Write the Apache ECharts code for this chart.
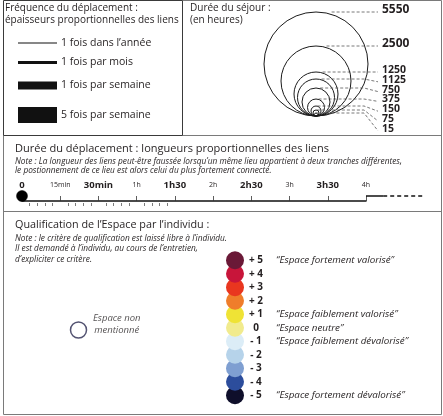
<!DOCTYPE html>
<html><head><meta charset="utf-8">
<script src="https://cdn.jsdelivr.net/npm/echarts@6.0.0/dist/echarts.min.js"></script>
<style>html,body{margin:0;padding:0;background:#fff}#c{width:443px;height:416px}</style>
</head><body><div id="c"></div><script>
// ---------- DATA ----------
const freqLabels = ["1 fois dans l’année", "1 fois par mois", "1 fois par semaine", "5 fois par semaine"];
const freqWidths = [1, 3, 8, 16];

const stayHours = [5550, 2500, 1250, 1125, 750, 375, 150, 75, 15];
const stayDiameters = [104, 70, 44, 37, 28, 17, 10, 6, 3];

const tripTicks = ["0", "15min", "30min", "1h", "1h30", "2h", "2h30", "3h", "3h30", "4h"];
const tripBold = [true, false, true, false, true, false, true, false, true, false];
const tripOrigin = [0];

const qualValues = ["+ 5", "+ 4", "+ 3", "+ 2", "+ 1", "0", "- 1", "- 2", "- 3", "- 4", "- 5"];
const qualColors = ["#6a1937", "#c8153a", "#e9361f", "#ef7d2b", "#efe335", "#f1eb8e", "#dcedf7", "#b6d3ea", "#7f9fd1", "#2c4d9c", "#0f0f2b"];
const qualNames = ["“Espace fortement valorisé”", "", "", "", "“Espace faiblement valorisé”", "“Espace neutre”", "“Espace faiblement dévalorisé”", "", "", "", "“Espace fortement dévalorisé”"];

// ---------- STYLE ----------
const FONT = '"Open Sans", sans-serif';
const TXT = '#231f20';
const FRAME = '#7a7a7a';
const FRAME_DARK = '#3a3a3a';

const chart = echarts.init(document.getElementById('c'), null, {renderer: 'canvas'});

// cumulative vertical placement of frequency lines (gap between edges)
const freqY = []; let acc = 0;
freqWidths.forEach((w, i) => { if (i > 0) acc += freqWidths[i - 1] / 2 + 17.5 + w / 2; freqY.push(acc); });

// label placement for stay circles (avoid overlap)
const stayLabelY = [];
stayDiameters.forEach((d, i) => {
  let v = d + 2;
  if (i > 0) v = Math.min(v, stayLabelY[i - 1] - 9.8);
  stayLabelY.push(v);
});

function txt(text, x, y, size, italic) {
  return {type: 'text', x: x, y: y, style: {
    text: text, fill: TXT, font: (italic ? 'italic ' : '') + size + 'px ' + FONT,
    verticalAlign: 'middle', align: 'left'
  }};
}
function ln(x1, y1, x2, y2, c) {
  return {type: 'line', shape: {x1: x1, y1: y1, x2: x2, y2: y2}, style: {stroke: c, lineWidth: 1}};
}

const graphics = [
  ln(182.5, 0.5, 441.5, 0.5, FRAME),
  ln(441.5, 0.5, 441.5, 414.5, FRAME),
  ln(3.5, 414.5, 441.5, 414.5, FRAME),
  ln(3.5, 135.5, 3.5, 414.5, FRAME),
  ln(182.5, 135.5, 441.5, 135.5, FRAME),
  ln(3.5, 211.5, 441.5, 211.5, FRAME),
  {type: 'rect', shape: {x: 3.5, y: 0.5, width: 179, height: 135}, style: {fill: 'none', stroke: FRAME_DARK, lineWidth: 1}},
  txt('Fréquence du déplacement :', 5, 8, 10),
  txt('épaisseurs proportionnelles des liens', 5, 20, 10),
  txt('Durée du séjour :', 190, 8, 10),
  txt('(en heures)', 190, 20, 10),
  txt('Durée du déplacement : longueurs proportionnelles des liens', 15, 148.5, 11),
  txt('Note : La longueur des liens peut-être faussée lorsqu’un même lieu appartient à deux tranches différentes,', 15, 161.5, 8.3, true),
  txt('le postionnement de ce lieu est alors celui du plus fortement connecté.', 15, 171, 8.3, true),
  txt('Qualification de l’Espace par l’individu :', 15, 225, 10.8),
  txt('Note : le critère de qualification est laissé libre à l’individu.', 15, 239, 8.3, true),
  txt('Il est demandé à l’individu, au cours de l’entretien,', 15, 249, 8.3, true),
  txt('d’expliciter ce critère.', 15, 259.5, 8.3, true)
];

const option = {
  animation: false,
  graphic: graphics,
  grid: [
    {left: 18, top: 43, width: 39, height: 100},          // 0 frequency
    {left: 264, top: 12, width: 104, height: 104},        // 1 stay circles
    {left: 22, top: 196, width: 344, height: 10},         // 2 trip duration axis
    {left: 226, top: 253.5, width: 18, height: 148.5},    // 3 qualification colours
    {left: 70, top: 321.5, width: 17, height: 17},        // 4 not mentioned
    {left: 22, top: 196, width: 152.9, height: 10}        // 5 fine graduation of the first part
  ],
  xAxis: [
    {gridIndex: 0, type: 'value', min: 0, max: 1, show: false},
    {gridIndex: 1, type: 'value', min: -52, max: 52, show: false},
    {gridIndex: 2, type: 'value', min: 0, max: 9, interval: 1, position: 'top',
      axisLine: {show: true, lineStyle: {color: '#111', width: 1.5}},
      axisTick: {show: true, length: 5, lineStyle: {color: '#333', width: 0.8}},
      splitLine: {show: false},
      axisLabel: {margin: 5, formatter: v => {
          const i = Math.round(v); if (Math.abs(v - i) > 1e-6) return '';
          return (tripBold[i] ? '{b|' : '{s|') + tripTicks[i] + '}';
        },
        rich: {b: {fontFamily: FONT, fontWeight: 'bold', fontSize: 9.5, color: TXT, lineHeight: 12},
               s: {fontFamily: FONT, fontSize: 7, color: TXT, lineHeight: 12}}}
    },
    {gridIndex: 3, type: 'value', min: 0, max: 1, show: false},
    {gridIndex: 4, type: 'value', min: 0, max: 1, show: false},
    {gridIndex: 5, type: 'value', min: 0, max: 4, interval: 1, position: 'top',
      axisLine: {show: false}, axisLabel: {show: false}, splitLine: {show: false},
      axisTick: {show: false},
      minorTick: {show: true, splitNumber: 5, length: 3, lineStyle: {color: '#444', width: 0.7}}}
  ],
  yAxis: [
    {gridIndex: 0, type: 'value', min: 0, max: 100, inverse: true, show: false},
    {gridIndex: 1, type: 'value', min: 0, max: 104, show: false},
    {gridIndex: 2, type: 'value', min: -1, max: 1, show: false},
    {gridIndex: 3, type: 'category', data: qualValues, inverse: true, position: 'right',
      axisLine: {show: false}, axisTick: {show: false},
      axisLabel: {margin: 12, align: 'center', fontFamily: FONT, fontWeight: 'bold', fontSize: 10, color: TXT}},
    {gridIndex: 4, type: 'value', min: 0, max: 1, show: false},
    {gridIndex: 5, type: 'value', min: 0, max: 1, show: false}
  ],
  series: [
    { // frequency lines
      type: 'custom', xAxisIndex: 0, yAxisIndex: 0, clip: false,
      data: freqWidths.map((w, i) => [w, freqY[i], i]),
      renderItem: (params, api) => {
        const w = api.value(0), y = api.value(1), i = api.value(2);
        const a = api.coord([0, y]), b = api.coord([1, y]);
        return {type: 'group', children: [
          {type: 'rect', shape: {x: a[0], y: a[1] - w / 2, width: b[0] - a[0], height: w}, style: {fill: '#111'}},
          {type: 'text', style: {text: freqLabels[i], x: b[0] + 4, y: a[1], verticalAlign: 'middle', font: '10.5px ' + FONT, fill: TXT}}
        ]};
      }
    },
    { // stay circles
      type: 'custom', xAxisIndex: 1, yAxisIndex: 1, clip: false,
      data: stayDiameters.map((d, i) => [d, stayLabelY[i], i]),
      renderItem: (params, api) => {
        const d = api.value(0), ly = api.value(1), i = api.value(2);
        const c = api.coord([0, d / 2]);
        const r = api.size([d / 2, d / 2])[1];
        const p0 = api.coord([d * 0.15, d]);
        const p1 = api.coord([48, d]);
        const p2 = api.coord([62, ly - 2]);
        const lp = api.coord([66, ly]);
        return {type: 'group', children: [
          {type: 'circle', shape: {cx: c[0], cy: c[1], r: r}, style: {fill: 'none', stroke: '#1a1a1a', lineWidth: 1}},
          {type: 'polyline', shape: {points: [p0, p1, p2]}, style: {fill: 'none', stroke: '#555', lineWidth: 0.8, lineDash: [3, 2]}},
          {type: 'text', style: {text: String(stayHours[i]), x: lp[0], y: lp[1], verticalAlign: 'middle',
            font: 'bold ' + (i < 2 ? 12 : 10.5) + 'px ' + FONT, fill: TXT}}
        ]};
      }
    },
    { // trip axis: origin dot and open-ended extension
      type: 'custom', xAxisIndex: 2, yAxisIndex: 2, clip: false, z: 20,
      data: tripOrigin.map(v => [v, 1]),
      renderItem: (params, api) => {
        const o = api.coord([api.value(0), 1]);
        const e0 = api.coord([9, 1]), e1 = api.coord([9.45, 1]), e2 = api.coord([10.55, 1]);
        return {type: 'group', children: [
          {type: 'line', shape: {x1: e0[0], y1: e0[1], x2: e1[0], y2: e1[1]}, style: {stroke: '#111', lineWidth: 1.5}},
          {type: 'line', shape: {x1: e1[0], y1: e1[1], x2: e2[0], y2: e2[1]}, style: {stroke: '#111', lineWidth: 1.5, lineDash: [4, 3]}},
          {type: 'circle', shape: {cx: o[0], cy: o[1], r: 5.5}, style: {fill: '#000', stroke: '#000', lineWidth: 0.5}}
        ]};
      }
    },
    { // qualification colours
      type: 'scatter', xAxisIndex: 3, yAxisIndex: 3, symbol: 'circle', symbolSize: 18,
      data: qualValues.map((v, i) => ({
        name: qualNames[i], value: [0.5, v],
        itemStyle: {color: qualColors[i], opacity: 1},
        label: {show: qualNames[i] !== ''}
      })).reverse(),
      label: {position: 'right', distance: 32, formatter: '{b}', fontFamily: FONT, fontStyle: 'italic', fontSize: 9.8, color: TXT},
      emphasis: {disabled: true}
    },
    { // not mentioned
      type: 'scatter', xAxisIndex: 4, yAxisIndex: 4, symbol: 'circle', symbolSize: 16,
      data: [{value: [0.5, 0.5], name: 'Espace non\nmentionné'}],
      itemStyle: {color: '#fff', borderColor: '#28284e', borderWidth: 1.5},
      label: {show: true, formatter: '{b}', position: [47, 3], align: 'center', verticalAlign: 'middle',
        fontFamily: FONT, fontStyle: 'italic', fontSize: 9.5, color: TXT, lineHeight: 12.5},
      emphasis: {disabled: true}
    }
  ]
};
chart.setOption(option);
</script></body></html>
